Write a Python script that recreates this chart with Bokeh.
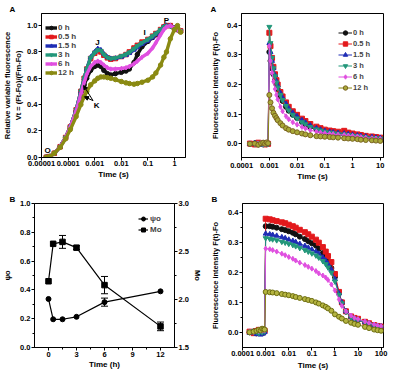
from bokeh.plotting import figure
from bokeh.models import (Range1d, LinearAxis, FixedTicker, CustomJSTickFormatter, PrintfTickFormatter,
                          Label, Arrow, NormalHead, Legend, LegendItem, Whisker, ColumnDataSource, TeeHead)
from bokeh.layouts import column, row
from bokeh.embed import file_html
from bokeh.resources import INLINE

FONT = "Liberation Sans"

series_labels = ["0 h", "0.5 h", "1.5 h", "3 h", "6 h", "12 h"]
series_colors = ["#111111", "#e3191c", "#1f2db5", "#23977a", "#e04fe0", "#8a8a12"]
series_markers = ["circle", "square", "triangle", "inverted_triangle", "diamond", "circle"]

# ---------- Panel A (left): OJIP, relative variable fluorescence ----------
ojip_time = [1.5e-5, 2e-5, 3e-5, 5e-5, 8e-5, 1.2e-4, 2e-4, 3e-4, 4e-4, 5e-4, 7e-4, 1e-3, 1.3e-3, 1.7e-3,
             2.2e-3, 3e-3, 4e-3, 6e-3, 1e-2, 1.5e-2, 2e-2, 3e-2, 4e-2, 6e-2, 0.1, 0.15, 0.2, 0.3, 0.4,
             0.5, 0.7, 1.0, 1.3, 1.7]
vt_0h = [0.0, 0.005, 0.03, 0.08, 0.15, 0.23, 0.35, 0.47, 0.55, 0.60, 0.66, 0.69, 0.70, 0.69, 0.66, 0.635,
         0.625, 0.635, 0.645, 0.655, 0.67, 0.72, 0.78, 0.84, 0.88, 0.91, 0.93, 0.96, 0.985, 1.0, 1.0, 0.98,
         0.97, 0.96]
vt_05h = [0.0, 0.005, 0.03, 0.08, 0.15, 0.23, 0.36, 0.5, 0.6, 0.67, 0.75, 0.79, 0.81, 0.80, 0.775, 0.755,
          0.745, 0.75, 0.765, 0.78, 0.80, 0.83, 0.85, 0.875, 0.895, 0.92, 0.94, 0.97, 0.99, 1.0, 1.0, 0.98,
          0.97, 0.96]
vt_15h = [0.0, 0.005, 0.03, 0.08, 0.15, 0.23, 0.36, 0.5, 0.6, 0.67, 0.76, 0.8, 0.825, 0.815, 0.785, 0.76,
          0.75, 0.752, 0.762, 0.775, 0.79, 0.815, 0.835, 0.86, 0.885, 0.91, 0.935, 0.965, 0.99, 1.0, 1.0,
          0.98, 0.97, 0.96]
vt_3h = [0.0, 0.005, 0.03, 0.08, 0.15, 0.23, 0.36, 0.5, 0.6, 0.67, 0.755, 0.795, 0.815, 0.81, 0.78, 0.758,
         0.75, 0.755, 0.768, 0.782, 0.797, 0.825, 0.845, 0.87, 0.895, 0.92, 0.94, 0.97, 0.99, 1.0, 0.995,
         0.98, 0.97, 0.96]
vt_6h = [0.0, 0.005, 0.03, 0.08, 0.15, 0.23, 0.35, 0.48, 0.57, 0.63, 0.69, 0.72, 0.73, 0.72, 0.70, 0.68,
         0.67, 0.67, 0.675, 0.68, 0.69, 0.71, 0.73, 0.76, 0.79, 0.83, 0.87, 0.93, 0.97, 0.99, 1.0, 0.98,
         0.97, 0.96]
vt_12h = [0.0, 0.005, 0.03, 0.075, 0.14, 0.21, 0.31, 0.40, 0.46, 0.50, 0.55, 0.58, 0.60, 0.61, 0.61, 0.605,
          0.60, 0.59, 0.575, 0.565, 0.56, 0.555, 0.56, 0.57, 0.585, 0.61, 0.64, 0.70, 0.76, 0.80, 0.90, 0.97,
          1.0, 0.95]
ojip_ticks = [1e-5, 1e-4, 1e-3, 1e-2, 0.1, 1]

# ---------- Panel A (right): fluorescence intensity ----------
fa_time = [2e-4, 3e-4, 4e-4, 5e-4, 6e-4, 7e-4, 8e-4, 9e-4,
           1e-3, 1.1e-3, 1.25e-3, 1.4e-3, 1.6e-3, 1.8e-3, 2e-3, 2.5e-3, 3e-3, 4e-3, 5e-3, 7e-3, 1e-2,
           1.5e-2, 2e-2, 3e-2, 5e-2, 7e-2, 0.1, 0.15, 0.2, 0.3, 0.5, 0.7, 1, 1.5, 2, 3, 5, 7, 10]
fa_0h = [0.0, 0.002, -0.002, 0.003, 0.0, 0.002, -0.001, 0.001,
         0.31, 0.28, 0.255, 0.235, 0.215, 0.2, 0.185, 0.16, 0.145, 0.125, 0.112, 0.098, 0.087, 0.074, 0.066,
         0.057, 0.048, 0.044, 0.04, 0.037, 0.035, 0.033, 0.031, 0.029, 0.028, 0.026, 0.024, 0.022, 0.02,
         0.019, 0.018]
fa_05h = [0.001, -0.002, 0.004, 0.0, 0.003, -0.002, 0.002, 0.0,
          0.375, 0.33, 0.29, 0.26, 0.235, 0.215, 0.2, 0.175, 0.16, 0.14, 0.125, 0.11, 0.098, 0.085, 0.077,
          0.067, 0.058, 0.053, 0.048, 0.045, 0.043, 0.041, 0.044, 0.038, 0.035, 0.032, 0.03, 0.027, 0.025,
          0.023, 0.021]
fa_15h = [0.0, 0.003, 0.0, -0.003, 0.002, 0.001, 0.0, 0.002,
          0.34, 0.31, 0.28, 0.255, 0.232, 0.212, 0.197, 0.172, 0.156, 0.135, 0.12, 0.105, 0.093, 0.08, 0.072,
          0.062, 0.053, 0.048, 0.044, 0.041, 0.039, 0.037, 0.035, 0.033, 0.031, 0.029, 0.027, 0.025, 0.023,
          0.021, 0.02]
fa_3h = [0.0, -0.001, 0.002, 0.001, -0.002, 0.003, 0.001, 0.0,
         0.395, 0.34, 0.29, 0.255, 0.228, 0.207, 0.19, 0.165, 0.148, 0.128, 0.113, 0.098, 0.086, 0.073, 0.066,
         0.057, 0.049, 0.045, 0.041, 0.038, 0.036, 0.034, 0.032, 0.03, 0.028, 0.026, 0.024, 0.022, 0.02,
         0.019, 0.018]
fa_6h = [0.002, 0.0, 0.001, 0.004, 0.0, -0.002, 0.003, 0.001,
         0.33, 0.28, 0.24, 0.21, 0.185, 0.165, 0.15, 0.125, 0.11, 0.093, 0.083, 0.073, 0.065, 0.057, 0.052,
         0.046, 0.041, 0.038, 0.036, 0.034, 0.033, 0.031, 0.03, 0.028, 0.027, 0.025, 0.023, 0.021, 0.019,
         0.018, 0.017]
fa_12h = [0.0, 0.001, -0.003, 0.002, 0.004, 0.0, 0.005, 0.002,
          0.165, 0.14, 0.12, 0.105, 0.095, 0.087, 0.08, 0.07, 0.062, 0.053, 0.048, 0.043, 0.039, 0.035, 0.032,
          0.029, 0.026, 0.025, 0.024, 0.023, 0.022, 0.021, 0.019, 0.018, 0.017, 0.016, 0.014, 0.013, 0.012,
          0.011, 0.01]
fa_ticks = [1e-4, 1e-3, 1e-2, 0.1, 1, 10]

# ---------- Panel B (left): psi_o and Mo ----------
hours = [0, 0.5, 1.5, 3, 6, 12]
psi_o = [0.337, 0.196, 0.196, 0.213, 0.315, 0.39]
psi_o_err = [0, 0, 0, 0, 0.028, 0]
mo = [2.19, 2.58, 2.60, 2.54, 2.15, 1.72]
mo_err = [0, 0, 0.067, 0.02, 0.09, 0.045]
hour_ticks = [0, 3, 6, 9, 12]

# ---------- Panel B (right): fluorescence intensity ----------
fb_time = [2e-4, 3e-4, 4e-4, 5e-4, 6e-4, 7e-4, 8e-4, 9e-4,
           1e-3, 1.5e-3, 2e-3, 3e-3, 5e-3, 7e-3, 1e-2, 1.5e-2, 2e-2, 3e-2, 5e-2, 7e-2, 0.1, 0.15, 0.2, 0.3,
           0.4, 0.5, 0.7, 1, 1.5, 2, 3, 5, 7, 10, 20, 30, 50, 70, 100]
fb_0h = [0.0, 0.003, -0.004, 0.002, 0.006, 0.001, -0.002, 0.004,
         0.355, 0.355, 0.353, 0.35, 0.345, 0.342, 0.338, 0.333, 0.328, 0.32, 0.312, 0.305, 0.298, 0.29, 0.28,
         0.265, 0.25, 0.235, 0.215, 0.185, 0.13, 0.1, 0.07, 0.052, 0.046, 0.042, 0.034, 0.029, 0.024, 0.021,
         0.019]
fb_05h = [0.002, -0.003, 0.004, 0.008, 0.002, 0.006, 0.003, 0.005,
          0.38, 0.378, 0.375, 0.372, 0.368, 0.365, 0.36, 0.355, 0.35, 0.343, 0.335, 0.328, 0.32, 0.31, 0.3,
          0.285, 0.27, 0.255, 0.235, 0.195, 0.135, 0.1, 0.07, 0.053, 0.048, 0.045, 0.035, 0.03, 0.024, 0.021,
          0.019]
fb_15h = [-0.002, 0.0, -0.006, 0.003, -0.008, 0.002, -0.004, 0.001,
          0.33, 0.328, 0.326, 0.323, 0.318, 0.315, 0.31, 0.306, 0.302, 0.296, 0.289, 0.283, 0.277, 0.27, 0.263,
          0.25, 0.24, 0.228, 0.21, 0.178, 0.13, 0.1, 0.07, 0.052, 0.046, 0.042, 0.034, 0.029, 0.024, 0.021,
          0.019]
fb_3h = [0.0, 0.004, 0.002, -0.003, 0.005, 0.0, 0.007, 0.003,
         0.315, 0.313, 0.311, 0.308, 0.303, 0.3, 0.296, 0.292, 0.288, 0.282, 0.275, 0.27, 0.264, 0.257, 0.25,
         0.238, 0.228, 0.217, 0.2, 0.17, 0.125, 0.097, 0.068, 0.05, 0.045, 0.041, 0.033, 0.028, 0.023, 0.02,
         0.018]
fb_6h = [0.003, 0.0, 0.006, 0.004, 0.01, 0.005, 0.008, 0.006,
         0.28, 0.278, 0.275, 0.27, 0.263, 0.258, 0.252, 0.246, 0.24, 0.233, 0.225, 0.219, 0.213, 0.205, 0.197,
         0.19, 0.183, 0.175, 0.16, 0.14, 0.11, 0.088, 0.07, 0.056, 0.048, 0.044, 0.036, 0.031, 0.026, 0.023,
         0.02]
fb_12h = [0.0, 0.002, 0.005, 0.008, 0.006, 0.012, 0.01, 0.009,
          0.135, 0.134, 0.133, 0.131, 0.128, 0.126, 0.124, 0.121, 0.118, 0.115, 0.111, 0.108, 0.105, 0.1,
          0.096, 0.09, 0.085, 0.08, 0.072, 0.06, 0.052, 0.046, 0.038, 0.032, 0.028, 0.025, 0.018, 0.014,
          0.009, 0.007, 0.005]
fb_ticks = [1e-4, 1e-3, 1e-2, 0.1, 1, 10, 100]
intensity_ticks = [0.0, 0.1, 0.2, 0.3, 0.4]
intensity_minor = [0.05, 0.15, 0.25, 0.35]


def make_fig(width, height, left, right, top, bottom, xr, yr, log_x, letter, letter_offset):
    p = figure(width=width, height=height, x_range=xr, y_range=yr,
               x_axis_type="log" if log_x else "linear", output_backend="svg",
               toolbar_location=None, min_border_left=left, min_border_right=right,
               min_border_top=top, min_border_bottom=bottom)
    p.xgrid.visible = False
    p.ygrid.visible = False
    p.outline_line_color = "black"
    p.outline_line_width = 1
    p.outline_line_alpha = 1
    p.background_fill_color = "white"
    p.border_fill_color = "white"
    p.title.text = letter
    p.title.align = "left"
    p.title.offset = letter_offset
    p.title.standoff = 0
    p.title.text_font = FONT
    p.title.text_font_style = "bold"
    p.title.text_font_size = "8px"
    p.title.text_color = "black"
    return p


def style_axes(p):
    for ax in p.axis:
        ax.axis_line_color = "black"
        ax.axis_line_width = 1
        ax.major_tick_line_color = "black"
        ax.minor_tick_line_color = "black"
        ax.major_tick_out = 3
        ax.major_tick_in = 0
        ax.minor_tick_out = 2
        ax.minor_tick_in = 0
        ax.major_label_standoff = 1
        ax.major_label_text_font = FONT
        ax.major_label_text_font_style = "bold"
        ax.major_label_text_font_size = "7.5px"
        ax.major_label_text_color = "black"
        ax.axis_label_text_font = FONT
        ax.axis_label_text_font_style = "bold"
        ax.axis_label_text_font_size = "8px"
        ax.axis_label_text_color = "black"
        ax.axis_label_standoff = 1
    for ax in p.yaxis:
        ax.axis_label_text_font_size = "7.5px"


def add_text(p, x, y, text, size="8px"):
    p.add_layout(Label(x=x, y=y, text=text, text_font=FONT, text_font_style="bold",
                       text_font_size=size, text_align="center",
                       text_baseline="middle", text_color="black"))


log_fmt = CustomJSTickFormatter(code="return String(tick);")

# ================= Panel A left =================
pa1 = make_fig(200, 190, 41, 15, 13, 29, Range1d(9.9e-6, 2.6), Range1d(-0.002, 1.092), True, "A", -32)
ojip_vals = [vt_0h, vt_05h, vt_15h, vt_3h, vt_6h, vt_12h]
items = []
for lab, col, mk, vals in zip(series_labels, series_colors, series_markers, ojip_vals):
    r1 = pa1.line(ojip_time, vals, line_color=col, line_width=3.4)
    r2 = pa1.scatter(ojip_time, vals, marker=mk, size=4.5, fill_color=col, line_color=col)
    items.append(LegendItem(label=lab, renderers=[r1, r2]))
pa1.xaxis.ticker = FixedTicker(ticks=ojip_ticks)
pa1.xaxis.formatter = log_fmt
pa1.yaxis.ticker = FixedTicker(ticks=[0.0, 0.2, 0.4, 0.6, 0.8, 1.0])
pa1.yaxis.formatter = PrintfTickFormatter(format="%.1f")
pa1.xaxis.axis_label = "Time (s)"
pa1.yaxis.axis_label = "Relative variable fluorescence\nVt = (Ft-Fo)/(Fm-Fo)"
style_axes(pa1)
pa1.xaxis.minor_tick_line_color = None
pa1.xaxis.major_label_standoff = 0
leg1 = Legend(items=items, location=(4, 80), padding=2, margin=0, spacing=0,
              label_height=9, glyph_height=9, glyph_width=12, label_standoff=1,
              label_text_font=FONT, label_text_font_style="bold", label_text_font_size="8px",
              border_line_color=None, background_fill_alpha=0)
pa1.add_layout(leg1)
add_text(pa1, 1.27e-3, 0.874, "J")
add_text(pa1, 0.0745, 0.948, "I")
add_text(pa1, 0.5, 1.037, "P")
add_text(pa1, 1.68e-5, 0.052, "O")
add_text(pa1, 1.17e-3, 0.393, "K")
for xe, ye in [(3.8e-4, 0.545), (4.1e-4, 0.46)]:
    pa1.add_layout(Arrow(end=NormalHead(size=4, fill_color="black", line_color="black"),
                         x_start=8.6e-4, y_start=0.43, x_end=xe, y_end=ye,
                         line_color="black", line_width=1))

# ================= Panel A right =================
pa2 = make_fig(200, 190, 41, 17, 13, 33, Range1d(9.9e-5, 13.1), Range1d(-0.046, 0.44), True, "A", -31)
fa_vals = [fa_0h, fa_05h, fa_15h, fa_3h, fa_6h, fa_12h]
items2 = []
for i, (lab, col, mk, vals) in enumerate(zip(series_labels, series_colors, series_markers, fa_vals)):
    r1 = pa2.line(fa_time, vals, line_color=col, line_width=1)
    if i == 5:
        r2 = pa2.scatter(fa_time, vals, marker=mk, size=5, fill_color="#a8a838", line_color="#7a6420")
    else:
        r2 = pa2.scatter(fa_time, vals, marker=mk, size=5, fill_color=col, line_color=col)
    items2.append(LegendItem(label=lab, renderers=[r1, r2]))
pa2.xaxis.ticker = FixedTicker(ticks=fa_ticks)
pa2.xaxis.formatter = log_fmt
pa2.yaxis.ticker = FixedTicker(ticks=intensity_ticks, minor_ticks=intensity_minor)
pa2.yaxis.formatter = PrintfTickFormatter(format="%.1f")
pa2.xaxis.axis_label = "Time (s)"
pa2.yaxis.axis_label = "Fluorescence intensity F(t)-Fo"
style_axes(pa2)
pa2.xaxis.minor_tick_line_color = None
pa2.xaxis.major_label_standoff = 2
pa2.yaxis.axis_label_standoff = 4
leg2 = Legend(items=items2, location=(97, 64), padding=2, margin=0, spacing=0,
              label_height=11, glyph_height=11, glyph_width=14, label_standoff=1,
              label_text_font=FONT, label_text_font_style="bold", label_text_font_size="7.5px",
              border_line_color=None, background_fill_alpha=0)
pa2.add_layout(leg2)

# ================= Panel B left =================
pb1 = make_fig(204, 192, 32, 25, 13, 30, Range1d(-1.5, 13.5), Range1d(0, 1.0), False, "B", -25)
pb1.extra_y_ranges = {"mo": Range1d(1.5, 3.0)}
pb1.add_layout(LinearAxis(y_range_name="mo"), "right")
r_psi_l = pb1.line(hours, psi_o, line_color="black", line_width=1.2)
r_psi_s = pb1.scatter(hours, psi_o, marker="circle", size=5, fill_color="black", line_color="black")
r_mo_l = pb1.line(hours, mo, line_color="black", line_width=1.2, y_range_name="mo")
r_mo_s = pb1.scatter(hours, mo, marker="square", size=5.5, fill_color="black", line_color="black",
                     y_range_name="mo")
psi_idx = [i for i, e in enumerate(psi_o_err) if e > 0]
src_psi = ColumnDataSource(dict(x=[hours[i] for i in psi_idx],
                                up=[psi_o[i] + psi_o_err[i] for i in psi_idx],
                                lo=[psi_o[i] - psi_o_err[i] for i in psi_idx]))
pb1.add_layout(Whisker(source=src_psi, base="x", upper="up", lower="lo", dimension="height",
                       line_color="black", line_width=1,
                       upper_head=TeeHead(size=7, line_color="black"),
                       lower_head=TeeHead(size=7, line_color="black")))
mo_idx = [i for i, e in enumerate(mo_err) if e > 0]
src_mo = ColumnDataSource(dict(x=[hours[i] for i in mo_idx],
                               up=[mo[i] + mo_err[i] for i in mo_idx],
                               lo=[mo[i] - mo_err[i] for i in mo_idx]))
pb1.add_layout(Whisker(source=src_mo, base="x", upper="up", lower="lo", dimension="height",
                       line_color="black", line_width=1, y_range_name="mo",
                       upper_head=TeeHead(size=7, line_color="black"),
                       lower_head=TeeHead(size=7, line_color="black")))
pb1.xaxis.ticker = FixedTicker(ticks=hour_ticks, minor_ticks=[1.5, 4.5, 7.5, 10.5])
pb1.yaxis[0].ticker = FixedTicker(ticks=[0.0, 0.2, 0.4, 0.6, 0.8, 1.0],
                                  minor_ticks=[0.1, 0.3, 0.5, 0.7, 0.9])
pb1.yaxis[0].formatter = PrintfTickFormatter(format="%.1f")
pb1.yaxis[1].ticker = FixedTicker(ticks=[1.5, 2.0, 2.5, 3.0], minor_ticks=[1.75, 2.25, 2.75])
pb1.yaxis[1].formatter = PrintfTickFormatter(format="%.1f")
pb1.xaxis.axis_label = "Time (h)"
pb1.yaxis[0].axis_label = "ψo"
pb1.yaxis[1].axis_label = "Mo"
style_axes(pb1)
pb1.xaxis.axis_label_standoff = 0
pb1.xaxis.major_label_standoff = 1
pb1.yaxis[0].axis_label_standoff = 5
leg3 = Legend(items=[LegendItem(label="ψo", renderers=[r_psi_l, r_psi_s]),
                     LegendItem(label="Mo", renderers=[r_mo_l, r_mo_s])],
              location=(104, 112), padding=2, margin=0, spacing=0,
              label_height=11, glyph_height=11, glyph_width=10, label_standoff=2,
              label_text_font=FONT, label_text_font_style="bold", label_text_font_size="8px",
              border_line_color=None, background_fill_alpha=0)
pb1.add_layout(leg3)

# ================= Panel B right =================
pb2 = make_fig(196, 192, 38, 17, 13, 35, Range1d(9.9e-5, 127), Range1d(-0.051, 0.431), True, "B", -31)
fb_vals = [fb_0h, fb_05h, fb_15h, fb_3h, fb_6h, fb_12h]
for i, (col, mk, vals) in enumerate(zip(series_colors, series_markers, fb_vals)):
    pb2.line(fb_time, vals, line_color=col, line_width=1)
    if i == 5:
        pb2.scatter(fb_time, vals, marker=mk, size=5, fill_color="#b4b440", line_color="#6d6d10")
    else:
        pb2.scatter(fb_time, vals, marker=mk, size=5, fill_color=col, line_color=col)
pb2.xaxis.ticker = FixedTicker(ticks=fb_ticks)
pb2.xaxis.formatter = log_fmt
pb2.yaxis.ticker = FixedTicker(ticks=intensity_ticks, minor_ticks=intensity_minor)
pb2.yaxis.formatter = PrintfTickFormatter(format="%.1f")
pb2.xaxis.axis_label = "Time (s)"
pb2.yaxis.axis_label = "Fluorescence intensity F(t)-Fo"
style_axes(pb2)
pb2.xaxis.minor_tick_line_color = None
pb2.xaxis.major_label_standoff = 0
pb2.xaxis.axis_label_standoff = 2
pb2.yaxis.axis_label_standoff = 5

layout = column(row(pa1, pa2), row(pb1, pb2))
open("out.html", "w").write(file_html(layout, INLINE))
